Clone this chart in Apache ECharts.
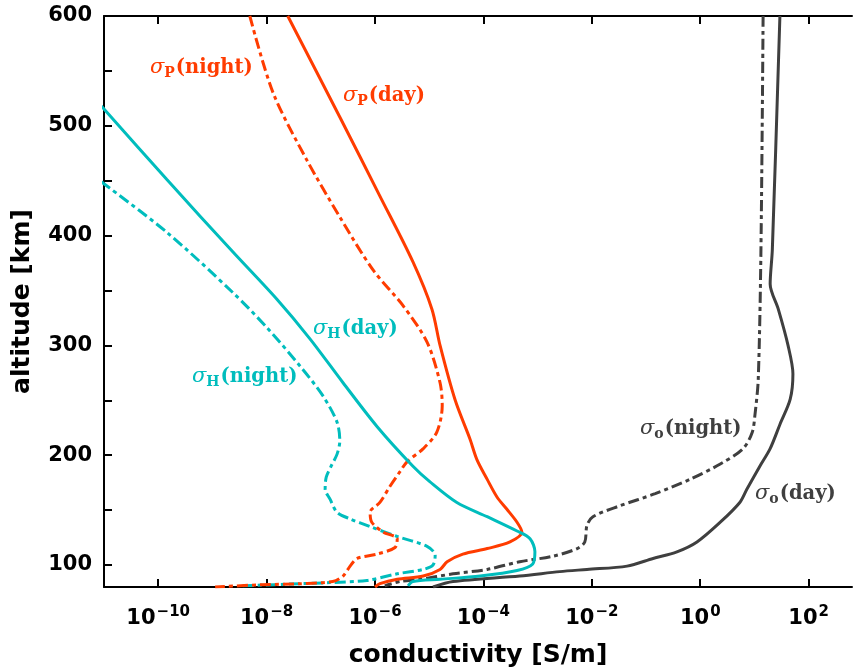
<!DOCTYPE html>
<html>
<head>
<meta charset="utf-8">
<script src="https://cdn.jsdelivr.net/npm/echarts@6/dist/echarts.min.js"></script>
<style>html,body{margin:0;padding:0;background:#fff}#c{width:853px;height:670px}</style>
</head>
<body>
<div id="c"></div>
<script>
// Values: altitude [km] and log10(conductivity [S/m])
const altPday   = [600, 508, 436, 376, 333, 300, 250, 215, 196, 178, 162, 151, 139, 130, 121, 115, 110, 103, 96, 90, 87, 83, 80];
const logPday   = [-7.61, -6.65, -5.91, -5.30, -4.95, -4.80, -4.52, -4.25, -4.12, -3.93, -3.75, -3.57, -3.38, -3.29, -3.51, -3.93, -4.38, -4.67, -4.80, -5.11, -5.59, -5.91, -6.0];

const altPnight = [600, 530, 469, 417, 369, 336, 303, 266, 245, 221, 206, 194, 185, 172, 157, 148, 139, 130, 124, 116, 110, 106, 99, 90, 85, 83, 82, 80];
const logPnight = [-8.31, -7.88, -7.26, -6.65, -6.04, -5.48, -5.04, -4.80, -4.76, -4.86, -5.11, -5.41, -5.54, -5.72, -5.91, -6.09, -6.06, -5.85, -5.59, -5.63, -5.96, -6.33, -6.46, -6.59, -6.78, -7.38, -8.12, -8.95];

const altHday   = [518, 451, 385, 342, 306, 266, 226, 190, 176, 157, 144, 131, 124, 112, 101, 95, 90, 87, 85, 81];
const logHday   = [-11.05, -9.84, -8.62, -7.81, -7.20, -6.59, -5.96, -5.30, -4.99, -4.49, -3.93, -3.38, -3.14, -3.05, -3.09, -3.38, -4.06, -4.80, -5.30, -5.39];

const altHnight = [449, 403, 348, 316, 281, 254, 230, 213, 201, 190, 180, 169, 160, 148, 142, 135, 126, 117, 109, 100, 96, 92, 86, 84, 83, 81];
const logHnight = [-11.05, -9.84, -8.62, -7.99, -7.38, -6.96, -6.70, -6.65, -6.70, -6.81, -6.90, -6.92, -6.83, -6.70, -6.46, -6.09, -5.59, -5.04, -4.89, -4.93, -5.11, -5.59, -6.15, -6.83, -7.38, -8.49];

const altOday   = [600, 387, 356, 333, 300, 274, 251, 228, 206, 190, 169, 157, 139, 121, 112, 106, 99, 96, 94, 90, 85, 80];
const logOday   = [1.47, 1.33, 1.29, 1.44, 1.62, 1.71, 1.66, 1.47, 1.29, 1.10, 0.86, 0.73, 0.37, -0.06, -0.43, -0.87, -1.35, -2.09, -2.59, -3.33, -4.56, -4.93];

const altOnight = [600, 387, 269, 237, 221, 206, 192, 178, 165, 154, 144, 136, 121, 115, 108, 103, 96, 92, 87, 85, 81];
const logOnight = [1.16, 1.12, 1.07, 1.01, 0.96, 0.79, 0.37, -0.19, -0.83, -1.48, -1.98, -2.09, -2.13, -2.27, -2.72, -3.33, -3.93, -4.56, -5.17, -5.54, -5.82];

const xTickExps  = [-10, -8, -6, -4, -2, 0, 2];
const yTickVals  = [100, 150, 200, 250, 300, 350, 400, 450, 500, 550, 600];
const yLabelVals = [100, 200, 300, 400, 500, 600];

const RED = '#ff3c00', CYAN = '#00bdbd', GRAY = '#3f3f3f';
const DASHDOT = [11, 4, 4, 4];

function pairs(xs, ys) { return ys.map((y, i) => [xs[i], y]); }

const chart = echarts.init(document.getElementById('c'), null, {renderer: 'canvas'});

function lineSeries(name, xs, ys, color, dashed) {
  return {
    name, type: 'line', data: pairs(xs, ys), showSymbol: false, symbol: 'none',
    smooth: 0.3, clip: true, animation: false,
    lineStyle: {color, width: 3, type: dashed ? DASHDOT : 'solid', cap: 'butt'}
  };
}

const axisFont = {fontFamily: 'DejaVu Sans', fontWeight: 'bold', color: '#000'};

const labelRich = (color) => ({
  s:   {fontFamily: 'DejaVu Serif', fontStyle: 'italic', fontSize: 21, color},
  sub: {fontFamily: 'DejaVu Serif', fontWeight: 'bold', fontSize: 14, padding: [11, 1, 0, 0], color},
  t:   {fontFamily: 'DejaVu Serif', fontWeight: 'bold', fontSize: 19.5, color}
});

function lbl(x, y, sub, word, color) {
  return {
    type: 'text', x, y, silent: true,
    style: {
      text: '{s|σ}{sub|' + sub + '}{t|(' + word + ')}',
      rich: labelRich(color), fill: color, verticalAlign: 'middle', align: 'left'
    }
  };
}

chart.setOption({
  animation: false,
  grid: {left: 104, right: 1, top: 16, bottom: 83, containLabel: false, outerBoundsMode: 'none'},
  xAxis: [{
    type: 'value', min: -11, max: 2.8, position: 'bottom',
    name: 'conductivity [S/m]', nameLocation: 'middle', nameGap: 56,
    nameTextStyle: Object.assign({fontSize: 25}, axisFont),
    axisLine: {show: true, onZero: false, lineStyle: {color: '#000', width: 2}},
    axisTick: {show: true, inside: true, length: 8, customValues: xTickExps, lineStyle: {color: '#000', width: 2}},
    splitLine: {show: false},
    axisLabel: {
      customValues: xTickExps, margin: 18,
      formatter: v => '{b|10}{p|' + (v < 0 ? '\u2212' + (-v) : v) + '}',
      rich: {
        b: {fontFamily: 'DejaVu Sans', fontWeight: 'bold', fontSize: 21, color: '#000'},
        p: {fontFamily: 'DejaVu Sans', fontWeight: 'bold', fontSize: 15, color: '#000', padding: [0, 0, 12, 1]}
      }
    }
  }, {
    type: 'value', min: -11, max: 2.8, position: 'top',
    axisLine: {show: true, onZero: false, lineStyle: {color: '#000', width: 2}},
    axisTick: {show: true, inside: true, length: 8, customValues: xTickExps, lineStyle: {color: '#000', width: 2}},
    axisLabel: {show: false}, splitLine: {show: false}
  }],
  yAxis: {
    type: 'value', min: 80, max: 600,
    name: 'altitude [km]', nameLocation: 'middle', nameGap: 69,
    nameTextStyle: Object.assign({fontSize: 25}, axisFont),
    axisLine: {show: true, onZero: false, lineStyle: {color: '#000', width: 2}},
    axisTick: {show: true, inside: true, length: 8, customValues: yTickVals, lineStyle: {color: '#000', width: 2}},
    splitLine: {show: false},
    axisLabel: Object.assign({customValues: yLabelVals, margin: 12, fontSize: 21}, axisFont)
  },
  series: [
    lineSeries('oday', logOday, altOday, GRAY, false),
    lineSeries('onight', logOnight, altOnight, GRAY, true),
    lineSeries('Hnight', logHnight, altHnight, CYAN, true),
    lineSeries('Pnight', logPnight, altPnight, RED, true),
    lineSeries('Pday', logPday, altPday, RED, false),
    lineSeries('Hday', logHday, altHday, CYAN, false)
  ],
  graphic: [
    lbl(150, 68, 'P', 'night', RED),
    lbl(343, 96, 'P', 'day', RED),
    lbl(313, 329, 'H', 'day', CYAN),
    lbl(192, 377, 'H', 'night', CYAN),
    lbl(640, 429, 'o', 'night', GRAY),
    lbl(755, 494, 'o', 'day', GRAY)
  ]
});
</script>
</body>
</html>
